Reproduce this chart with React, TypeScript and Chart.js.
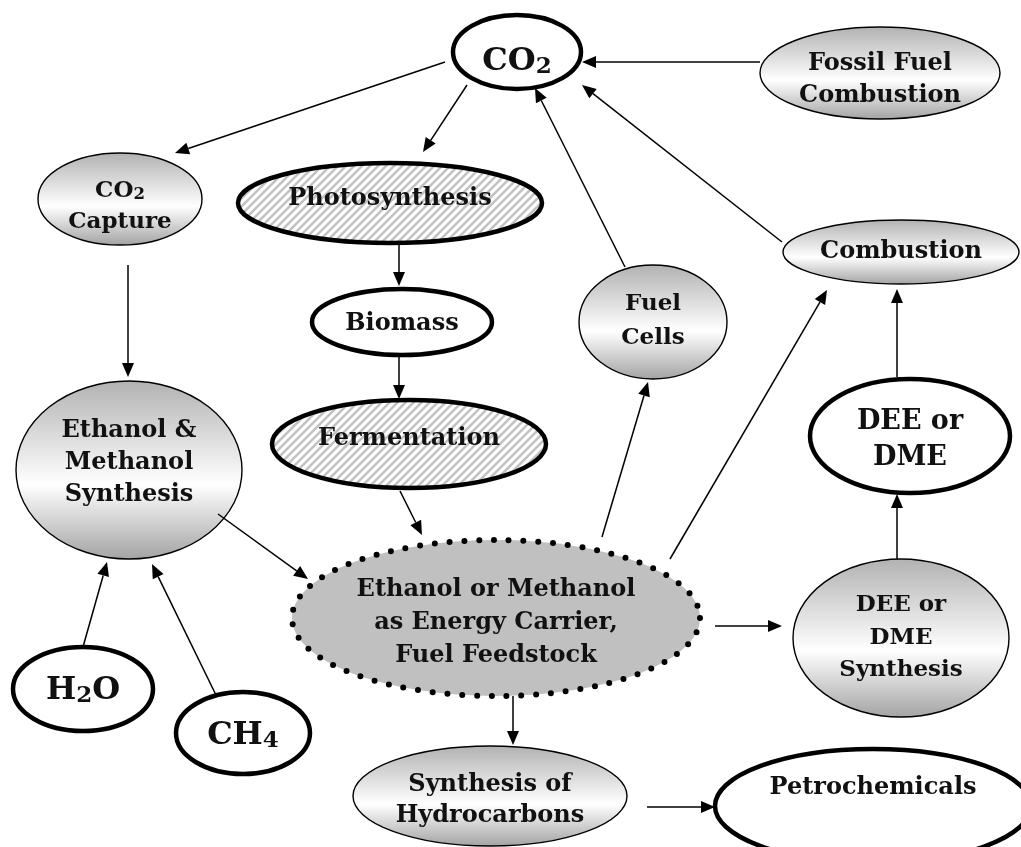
import React, { useEffect, useRef } from "react";
import { Chart, registerables } from "chart.js";

Chart.register(...registerables);

// ---- Diagram data (node centres / radii in diagram units, 0..1021 x 0..847) ----
const nodeLabels: string[][] = [
  ["CO_2"],
  ["Fossil Fuel", "Combustion"],
  ["CO_2", "Capture"],
  ["Photosynthesis"],
  ["Combustion"],
  ["Biomass"],
  ["Fuel", "Cells"],
  ["Fermentation"],
  ["Ethanol &", "Methanol", "Synthesis"],
  ["DEE or", "DME"],
  ["Ethanol or Methanol", "as Energy Carrier,", "Fuel Feedstock"],
  ["DEE or", "DME", "Synthesis"],
  ["H_2O"],
  ["CH_4"],
  ["Synthesis of", "Hydrocarbons"],
  ["Petrochemicals"],
];
const nodeX = [517, 880, 120, 390, 901, 402, 653, 409, 129, 910, 496, 901, 83, 243, 490, 873];
const nodeY = [52, 73, 199, 203, 252, 322, 322, 444, 470, 436, 618, 638, 689, 733, 796, 806];
const nodeRX = [64, 120, 82, 152, 118, 90, 74, 137, 113, 100, 204, 108, 70, 67, 137, 158];
const nodeRY = [37, 46, 46, 40, 32, 33, 57, 44, 89, 57, 78, 79, 42, 41, 50, 57];

// arrows: start point -> tip
const arrowFromX = [445, 467, 760, 782, 625, 128, 399, 399, 400, 218, 602, 670, 897, 897, 715, 513, 647, 83, 216];
const arrowFromY = [62, 85, 62, 242, 267, 265, 243, 355, 491, 514, 537, 559, 377, 559, 626, 696, 807, 647, 695];
const arrowToX = [175, 423, 582, 582, 535, 128, 399, 399, 422, 308, 648, 827, 897, 897, 782, 513, 715, 107, 152];
const arrowToY = [153, 152, 62, 85, 88, 377, 286, 399, 535, 579, 382, 290, 289, 494, 626, 745, 807, 562, 564];

// ---- styles ----
const nodeKind = ["bold", "grad", "grad", "hatch", "grad", "bold", "grad", "hatch", "grad", "bold", "dots", "grad", "bold", "bold", "grad", "bold"];
const fontSize = [32, 24, 23, 24, 24, 24, 23, 24, 24, 27, 24, 23, 32, 32, 24, 24];
const textDy = [18, -3, -2, 2, 6, 8, -12, 1, -33, -7, -22, -27, 10, 11, -5, -12];
const lineH = [0, 32, 31, 0, 0, 0, 34, 0, 32, 36, 33, 32.5, 0, 0, 31, 0];
const FONT = '"DejaVu Serif", "Liberation Serif", serif';

function fontOf(size: number) {
  return `bold ${size}px ${FONT}`;
}

function drawRich(ctx: CanvasRenderingContext2D, text: string, cx: number, base: number, size: number) {
  const parts = text.split(/(_\d)/).filter((p) => p.length > 0);
  const subSize = size * 0.72;
  const widths = parts.map((p) => {
    if (p.startsWith("_")) {
      ctx.font = fontOf(subSize);
      return ctx.measureText(p.slice(1)).width;
    }
    ctx.font = fontOf(size);
    return ctx.measureText(p).width;
  });
  const total = widths.reduce((a, b) => a + b, 0);
  let x = cx - total / 2;
  ctx.textAlign = "left";
  ctx.textBaseline = "alphabetic";
  parts.forEach((p, i) => {
    if (p.startsWith("_")) {
      ctx.font = fontOf(subSize);
      ctx.fillText(p.slice(1), x, base + size * 0.1);
    } else {
      ctx.font = fontOf(size);
      ctx.fillText(p, x, base);
    }
    x += widths[i];
  });
}

function makeHatch(ctx: CanvasRenderingContext2D) {
  const c = document.createElement("canvas");
  const s = 8;
  c.width = s;
  c.height = s;
  const g = c.getContext("2d")!;
  g.fillStyle = "#ffffff";
  g.fillRect(0, 0, s, s);
  g.strokeStyle = "#c2c2c2";
  g.lineWidth = 2.6;
  g.beginPath();
  g.moveTo(-2, s + 2);
  g.lineTo(s + 2, -2);
  g.moveTo(-2 - s, s + 2);
  g.lineTo(2, -2);
  g.moveTo(-2 + s, s + 2);
  g.lineTo(s + 2 + s, -2);
  g.stroke();
  return ctx.createPattern(c, "repeat")!;
}

const diagramPlugin = {
  id: "diagram",
  afterDatasetsDraw(chart: any) {
    const ctx: CanvasRenderingContext2D = chart.ctx;
    const xs = chart.scales.x;
    const ys = chart.scales.y;
    const px = (v: number) => xs.getPixelForValue(v);
    const py = (v: number) => ys.getPixelForValue(v);
    const hatch = makeHatch(ctx);

    ctx.save();
    // nodes
    nodeX.forEach((_, i) => {
      const cx = px(nodeX[i]);
      const cy = py(nodeY[i]);
      const rx = Math.abs(px(nodeX[i] + nodeRX[i]) - cx);
      const ry = Math.abs(py(nodeY[i] + nodeRY[i]) - cy);
      const kind = nodeKind[i];
      ctx.beginPath();
      ctx.ellipse(cx, cy, rx, ry, 0, 0, Math.PI * 2);
      if (kind === "grad") {
        const g = ctx.createLinearGradient(0, cy - ry, 0, cy + ry);
        g.addColorStop(0, "#b2b2b2");
        g.addColorStop(0.58, "#ffffff");
        g.addColorStop(1, "#a4a4a4");
        ctx.fillStyle = g;
        ctx.fill();
        ctx.lineWidth = 1.4;
        ctx.strokeStyle = "#000";
        ctx.setLineDash([]);
        ctx.stroke();
      } else if (kind === "hatch") {
        ctx.fillStyle = hatch;
        ctx.fill();
        ctx.lineWidth = 4.5;
        ctx.strokeStyle = "#000";
        ctx.setLineDash([]);
        ctx.stroke();
      } else if (kind === "dots") {
        ctx.fillStyle = "#c0c0c0";
        ctx.fill();
        ctx.lineWidth = 6;
        ctx.lineCap = "round";
        ctx.strokeStyle = "#000";
        ctx.setLineDash([0, 14.8]);
        ctx.stroke();
        ctx.setLineDash([]);
        ctx.lineCap = "butt";
      } else {
        ctx.fillStyle = "#ffffff";
        ctx.fill();
        ctx.lineWidth = 4.5;
        ctx.strokeStyle = "#000";
        ctx.setLineDash([]);
        ctx.stroke();
      }
    });

    // arrows
    ctx.strokeStyle = "#000";
    ctx.fillStyle = "#000";
    ctx.lineWidth = 1.5;
    arrowFromX.forEach((_, i) => {
      const x1 = px(arrowFromX[i]);
      const y1 = py(arrowFromY[i]);
      const x2 = px(arrowToX[i]);
      const y2 = py(arrowToY[i]);
      const ang = Math.atan2(y2 - y1, x2 - x1);
      const L = 14;
      const W = 6;
      const bx = x2 - L * Math.cos(ang);
      const by = y2 - L * Math.sin(ang);
      ctx.beginPath();
      ctx.moveTo(x1, y1);
      ctx.lineTo(bx, by);
      ctx.stroke();
      ctx.beginPath();
      ctx.moveTo(x2, y2);
      ctx.lineTo(bx + W * Math.sin(ang), by - W * Math.cos(ang));
      ctx.lineTo(bx - W * Math.sin(ang), by + W * Math.cos(ang));
      ctx.closePath();
      ctx.fill();
    });

    // labels
    ctx.fillStyle = "#111";
    nodeLabels.forEach((lines, i) => {
      const cx = px(nodeX[i]);
      const base0 = py(nodeY[i] + textDy[i]);
      lines.forEach((line, k) => {
        drawRich(ctx, line, cx, base0 + k * lineH[i], fontSize[i]);
      });
    });
    ctx.restore();
  },
};

export default function App() {
  const ref = useRef<HTMLCanvasElement | null>(null);
  useEffect(() => {
    document.body.style.margin = "0";
    const canvas = ref.current!;
    const chart = new Chart(canvas, {
      type: "scatter",
      data: {
        datasets: [
          {
            label: "nodes",
            data: nodeX.map((x, i) => ({ x, y: nodeY[i] })),
            pointRadius: 0,
            pointHoverRadius: 0,
          },
        ],
      },
      options: {
        animation: false,
        responsive: false,
        devicePixelRatio: 1,
        layout: { padding: 0 },
        events: [],
        plugins: { legend: { display: false }, tooltip: { enabled: false } },
        scales: {
          x: { type: "linear", min: 0, max: 1021, display: false },
          y: { type: "linear", min: 0, max: 847, reverse: true, display: false },
        },
      },
      plugins: [diagramPlugin],
    });
    return () => chart.destroy();
  }, []);
  return (
    <div style={{ position: "absolute", left: 0, top: 0, width: 1021, height: 847, background: "#fff" }}>
      <canvas ref={ref} width={1021} height={847} style={{ display: "block" }} />
    </div>
  );
}
